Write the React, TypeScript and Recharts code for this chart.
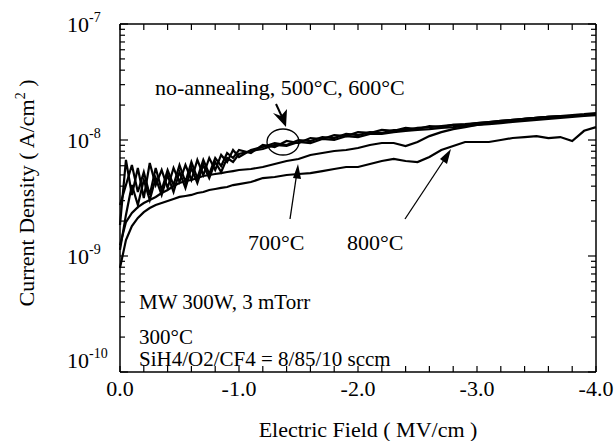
import React from 'react'
import { LineChart, Line, XAxis, YAxis } from 'recharts'

// electric field (MV/cm), shared by all curves
const fieldMVcm = [
    0, -0.05, -0.1, -0.15, -0.2, -0.25, -0.3, -0.35, -0.4, -0.45, -0.5,
    -0.55, -0.6, -0.65, -0.7, -0.75, -0.8, -0.85, -0.9, -0.95, -1.0,
    -1.1, -1.2, -1.3, -1.4, -1.5, -1.6, -1.7, -1.8, -1.9, -2.0,
    -2.1, -2.2, -2.3, -2.4, -2.5, -2.6, -2.7, -2.8, -2.9, -3.0,
    -3.1, -3.2, -3.3, -3.4, -3.5, -3.6, -3.7, -3.8, -3.9, -4.0,
]

// current density, in units of 1e-9 A/cm2
const noAnnealing = [
    1.85, 6.73, 3.36, 5.74, 3.16, 6.33, 4.09, 5.51, 3.86, 5.74, 4.34,
    6.09, 4.52, 6.73, 4.99, 7.0, 5.51, 7.43, 6.46, 8.2, 7.14,
    8.2, 8.7, 9.42, 9.06, 10.0, 9.8, 10.6, 10.4, 11.3, 11.0,
    11.7, 11.5, 12.2, 12.2, 12.7, 12.9, 13.2, 13.5, 13.7, 14.0,
    14.3, 14.6, 14.9, 15.2, 15.5, 15.8, 16.1, 16.4, 16.7, 17.1,
]
const anneal500 = [
    2.75, 4.09, 6.09, 3.56, 5.3, 3.36, 5.74, 3.71, 5.51, 4.09, 6.09,
    4.34, 6.46, 4.7, 6.73, 5.09, 7.0, 5.97, 7.73, 7.0, 8.2,
    7.73, 9.06, 8.7, 9.8, 9.42, 10.4, 10.2, 11.0, 10.8, 11.7,
    11.5, 12.2, 12.0, 12.7, 12.4, 13.2, 12.9, 13.5, 13.5, 14.0,
    14.3, 14.6, 14.9, 15.2, 15.5, 15.8, 15.8, 16.1, 16.4, 16.7,
]
const anneal600 = [
    1.13, 2.26, 4.09, 2.75, 4.52, 3.04, 4.7, 3.36, 4.99, 3.56, 5.3,
    3.86, 5.74, 4.26, 6.09, 4.7, 6.46, 5.3, 7.0, 6.46, 7.57,
    8.04, 8.37, 9.06, 8.88, 9.61, 9.42, 10.2, 10.0, 10.8, 10.6,
    11.3, 11.3, 11.7, 12.0, 12.2, 12.4, 12.7, 12.9, 13.2, 13.5,
    13.7, 14.0, 14.3, 14.6, 14.9, 15.2, 15.5, 15.8, 16.1, 16.4,
]
const anneal700 = [
    1.24, 1.96, 2.35, 2.64, 2.86, 3.04, 3.23, 3.49, 3.71, 4.01, 4.26,
    4.43, 4.52, 4.7, 4.89, 4.99, 5.09, 5.19, 5.3, 5.4, 5.51,
    5.62, 5.85, 6.21, 6.59, 6.86, 7.43, 7.73, 8.04, 8.2, 8.53,
    9.06, 9.42, 9.42, 8.88, 9.61, 10.8, 11.7, 12.4, 12.9, 13.5,
    14.0, 14.3, 14.6, 15.2, 15.5, 15.8, 16.1, 16.1, 16.4, 16.7,
]
const anneal800 = [
    0.79, 1.37, 1.81, 2.13, 2.39, 2.59, 2.75, 2.86, 2.98, 3.1, 3.23,
    3.29, 3.36, 3.49, 3.56, 3.71, 3.78, 3.86, 3.93, 4.09, 4.17,
    4.34, 4.7, 4.8, 4.99, 5.09, 5.19, 5.4, 5.62, 5.85, 5.85,
    6.21, 6.59, 6.86, 6.59, 6.46, 7.14, 8.2, 8.88, 9.61, 9.61,
    9.61, 10.0, 10.4, 10.6, 10.8, 10.4, 10.6, 9.8, 12.0, 12.9,
]

const xTicks = [
    0, -0.2, -0.4, -0.6, -0.8, -1.0, -1.2, -1.4, -1.6, -1.8, -2.0,
    -2.2, -2.4, -2.6, -2.8, -3.0, -3.2, -3.4, -3.6, -3.8, -4.0,
]
const xLabelled = [0, -1, -2, -3, -4]
const yDecades = [-10, -9, -8, -7]
const yMantissas = [1, 2, 3, 4, 5, 6, 7, 8, 9]

const NANO = 1e-9
const data = fieldMVcm.map((e, i) => ({
    e,
    na: noAnnealing[i] * NANO,
    t500: anneal500[i] * NANO,
    t600: anneal600[i] * NANO,
    t700: anneal700[i] * NANO,
    t800: anneal800[i] * NANO,
}))

const yTicks = yDecades.flatMap(d =>
    d === yDecades[yDecades.length - 1] ? [Math.pow(10, d)] : yMantissas.map(m => m * Math.pow(10, d))
)

const FONT = '"Liberation Serif", "Times New Roman", serif'

const isDecade = (v: number) => {
    const exp = Math.round(Math.log10(v))
    return Math.abs(v - Math.pow(10, exp)) < v * 1e-6
}
const isLabelled = (v: number) => xLabelled.some(l => Math.abs(l - v) < 1e-6)

const LeftTick = ({ x, y, payload }: any) => {
    const v = payload.value
    const major = isDecade(v)
    const exp = Math.round(Math.log10(v))
    const base = exp === yDecades[0] ? y - 4 : y + 8
    return (
        <g>
            <line x1={x} x2={x + (major ? 8 : 5)} y1={y} y2={y} stroke="#000" strokeWidth={1.2} />
            {major && (
                <text x={x - 53} y={base} fontFamily={FONT} fontSize={22} fill="#000">
                    10
                    <tspan dy={-10} fontSize={14}>{exp}</tspan>
                </text>
            )}
        </g>
    )
}

const RightTick = ({ x, y, payload }: any) => {
    const major = isDecade(payload.value)
    return <line x1={x} x2={x - (major ? 8 : 5)} y1={y} y2={y} stroke="#000" strokeWidth={1.2} />
}

const BottomTick = ({ x, y, payload }: any) => {
    const v = payload.value
    return (
        <g>
            <line x1={x} x2={x} y1={y} y2={y - 6} stroke="#000" strokeWidth={1.2} />
            {isLabelled(v) && (
                <text x={x} y={y + 24} textAnchor="middle" fontFamily={FONT} fontSize={22} fill="#000">
                    {v.toFixed(1)}
                </text>
            )}
        </g>
    )
}

const TopTick = ({ x, y }: any) => (
    <line x1={x} x2={x} y1={y} y2={y + 6} stroke="#000" strokeWidth={1.2} />
)

const series = ['na', 't500', 't600', 't700', 't800']

export default function App() {
    return (
        <div style={{ position: 'absolute', left: 0, top: 0, width: 616, height: 441, background: '#fff' }}>
            <LineChart width={616} height={441} data={data} margin={{ top: 4, right: 0, bottom: 0, left: 0 }}>
                <XAxis
                    xAxisId="bottom"
                    dataKey="e"
                    type="number"
                    domain={[-4, 0]}
                    reversed
                    ticks={xTicks}
                    interval={0}
                    height={69}
                    tickSize={0}
                    tickMargin={0}
                    tickLine={false}
                    tick={<BottomTick />}
                    axisLine={{ stroke: '#000', strokeWidth: 1.5 }}
                />
                <XAxis
                    xAxisId="top"
                    orientation="top"
                    dataKey="e"
                    type="number"
                    domain={[-4, 0]}
                    reversed
                    ticks={xTicks}
                    interval={0}
                    height={20}
                    tickSize={0}
                    tickMargin={0}
                    tickLine={false}
                    tick={<TopTick />}
                    axisLine={{ stroke: '#000', strokeWidth: 1.5 }}
                />
                <YAxis
                    yAxisId="left"
                    scale="log"
                    type="number"
                    domain={[1e-10, 1e-7]}
                    allowDataOverflow
                    ticks={yTicks}
                    interval={0}
                    width={120}
                    tickSize={0}
                    tickMargin={0}
                    tickLine={false}
                    tick={<LeftTick />}
                    axisLine={{ stroke: '#000', strokeWidth: 1.5 }}
                />
                <YAxis
                    yAxisId="right"
                    orientation="right"
                    scale="log"
                    type="number"
                    domain={[1e-10, 1e-7]}
                    allowDataOverflow
                    ticks={yTicks}
                    interval={0}
                    width={20}
                    tickSize={0}
                    tickMargin={0}
                    tickLine={false}
                    tick={<RightTick />}
                    axisLine={{ stroke: '#000', strokeWidth: 1.5 }}
                />
                {series.map(key => (
                    <Line
                        key={key}
                        xAxisId="bottom"
                        yAxisId="left"
                        dataKey={key}
                        type="linear"
                        stroke="#000"
                        strokeWidth={2.2}
                        strokeLinejoin="miter"
                        dot={false}
                        isAnimationActive={false}
                    />
                ))}
            </LineChart>
            <svg
                width={616}
                height={441}
                style={{ position: 'absolute', left: 0, top: 0, pointerEvents: 'none' }}
                fontFamily={FONT}
                fill="#000"
            >
                <text transform="translate(34,193) rotate(-90)" textAnchor="middle" fontSize={22}>
                    Current Density ( A/cm<tspan dy={-9} fontSize={14}>2</tspan>
                    <tspan dy={9}> )</tspan>
                </text>
                <text x={368} y={437} textAnchor="middle" fontSize={22}>Electric Field ( MV/cm )</text>

                <text x={155} y={95} fontSize={22}>no-annealing, 500°C, 600°C</text>
                <ellipse cx={283} cy={142} rx={16} ry={13} fill="none" stroke="#000" strokeWidth={1.3} />
                <line x1={276} y1={104} x2={283} y2={119} stroke="#000" strokeWidth={2} />
                <polygon points="286,127 273,113 281,116 287,109" fill="#000" />

                <text x={248} y={250} fontSize={22}>700°C</text>
                <line x1={290} y1={219} x2={297} y2={172} stroke="#000" strokeWidth={1.3} />
                <polygon points="298,164 293,178 301,179" fill="#000" />

                <text x={347} y={250} fontSize={22}>800°C</text>
                <line x1={405} y1={219} x2={446} y2={157} stroke="#000" strokeWidth={1.3} />
                <polygon points="451,149 440,159 447,164" fill="#000" />

                <text x={139} y={309} fontSize={21}>MW 300W, 3 mTorr</text>
                <text x={139} y={344} fontSize={21}>300°C</text>
                <text x={139} y={366} fontSize={21}>SiH4/O2/CF4 = 8/85/10 sccm</text>
            </svg>
        </div>
    )
}
